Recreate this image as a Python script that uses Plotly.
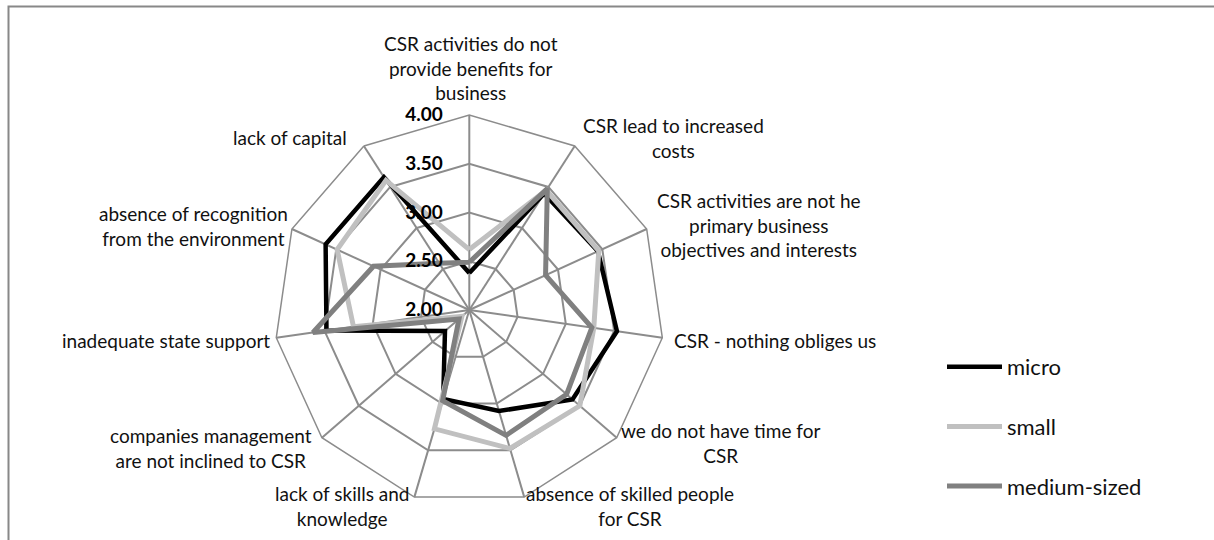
"""Radar chart: barriers to CSR by enterprise size."""

import plotly.graph_objects as go

W, H = 1214, 540

categories = [
    "CSR activities do not<br>provide benefits for<br>business",
    "CSR lead to increased<br>costs",
    "CSR activities are not he<br>primary business<br>objectives and interests",
    "CSR - nothing obliges us",
    "we do not have time for<br>CSR",
    "absence of skilled people<br>for CSR",
    "lack of skills and<br>knowledge",
    "companies management<br>are not inclined to CSR",
    "inadequate state support",
    "absence of recognition<br>from the environment",
    "lack of capital",
]

micro = [2.38, 3.42, 3.45, 3.53, 3.40, 3.08, 2.95, 2.33, 3.48, 3.62, 3.62]
small = [2.62, 3.46, 3.46, 3.29, 3.50, 3.48, 3.27, 2.10, 3.20, 3.49, 3.58]
medium = [2.49, 3.48, 2.86, 3.27, 3.32, 3.34, 2.97, 2.14, 3.62, 3.08, 2.57]

radial_ticks = [2.0, 2.5, 3.0, 3.5, 4.0]

# label placement in pixels (centre x, centre y)
label_pos = [
    (471, 68), (673, 138), (759, 225), (775, 340), (720, 443), (630, 506),
    (342, 506), (211, 448), (166, 340), (194, 226), (290, 137),
]

FONT = "Lato"
GRID = "#8c8c8c"

fig = go.Figure()
series = [("micro", micro, "#000000", 4.5), ("small", small, "#c0c0c0", 5),
          ("medium-sized", medium, "#808080", 5)]
for name, vals, color, width in series:
    fig.add_trace(go.Scatterpolar(
        r=vals + vals[:1], theta=categories + categories[:1],
        mode="lines", name=name, legendgroup=name,
        line=dict(color=color, width=width),
    ))

for text, (px, py) in zip(categories, label_pos):
    fig.add_annotation(text=text, x=px / W, y=1 - py / H, xref="paper", yref="paper",
                       xanchor="center", yanchor="middle", align="center", showarrow=False,
                       font=dict(family=FONT, size=19, color="#111111"))

# outer frame
fig.add_shape(type="rect", xref="paper", yref="paper", x0=8.5 / W, x1=1.05,
              y0=-0.05, y1=1 - 6.5 / H, line=dict(color="#888888", width=2))

cx, cy, rad = 469.3, 310, 195
fig.update_layout(
    width=W, height=H, paper_bgcolor="white", margin=dict(l=0, r=0, t=0, b=0),
    font=dict(family=FONT, size=19, color="#111111"),
    polar=dict(
        domain=dict(x=[(cx - rad) / W, (cx + rad) / W], y=[1 - (cy + rad) / H, 1 - (cy - rad) / H]),
        bgcolor="white", gridshape="linear",
        radialaxis=dict(range=[2, 4], tickvals=radial_ticks,
                        ticktext=[f"{v:.2f}" + "\u00a0" * 5 for v in radial_ticks],
                        angle=90, tickangle=90, side="counterclockwise",
                        showline=False, gridcolor=GRID, gridwidth=1.5, ticks="",
                        tickfont=dict(family=FONT, size=19, color="black", weight="bold")),
        angularaxis=dict(type="category", direction="clockwise", rotation=90,
                         showticklabels=False, gridcolor=GRID, gridwidth=1.5,
                         linecolor=GRID, linewidth=1.5, ticks=""),
    ),
    legend=dict(x=942 / W, y=1 - 346 / H, xanchor="left", yanchor="top", tracegroupgap=28,
                itemwidth=55, font=dict(family=FONT, size=22, color="#111111"),
                bgcolor="rgba(0,0,0,0)"),
)

fig.write_html("out.html", config={"displayModeBar": False},
               post_script="document.body.style.margin='0';")
